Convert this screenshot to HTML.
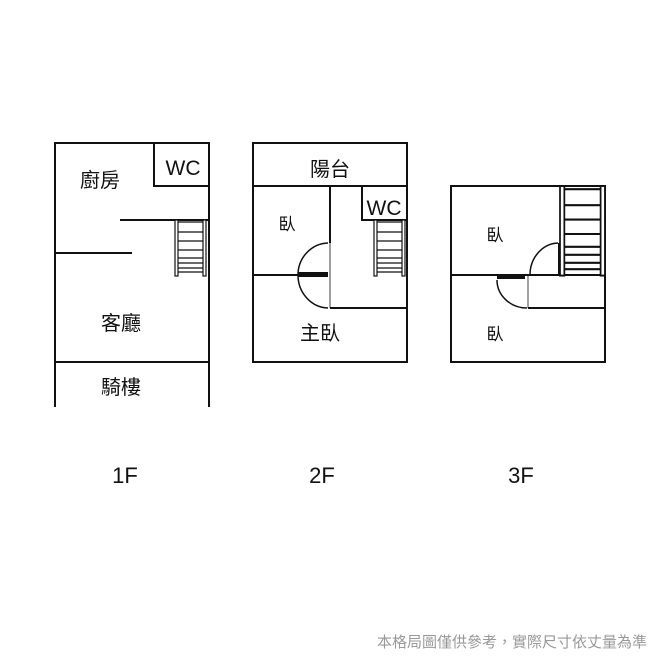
<!DOCTYPE html>
<html><head><meta charset="utf-8"><style>
body{margin:0;background:#fff;}
svg{display:block}
text{font-family:"Liberation Sans","Noto Sans CJK TC",sans-serif;fill:#111}
</style></head><body>
<svg width="660" height="660" viewBox="0 0 660 660" xmlns="http://www.w3.org/2000/svg">
<rect width="660" height="660" fill="#fff"/>
<defs>
<g id="st">
 <rect x="0" y="0" width="3" height="56" fill="#fff" stroke="#111" stroke-width="1.2"/>
 <rect x="28" y="0" width="3" height="56" fill="#fff" stroke="#111" stroke-width="1.2"/>
 <g stroke="#111" stroke-width="1.3">
  <line x1="3" y1="2" x2="28" y2="2"/><line x1="3" y1="12" x2="28" y2="12"/>
  <line x1="3" y1="21" x2="28" y2="21"/><line x1="3" y1="30" x2="28" y2="30"/>
  <line x1="3" y1="38" x2="28" y2="38"/><line x1="3" y1="43" x2="28" y2="43"/>
  <line x1="3" y1="48" x2="28" y2="48"/><line x1="3" y1="52" x2="28" y2="52"/>
 </g>
</g>
</defs>
<g fill="none" stroke="#111" stroke-width="2">
 <!-- 1F -->
 <polyline points="55,407 55,143 209,143 209,407"/>
 <polyline points="154,143 154,186 209,186"/>
 <line x1="120" y1="220" x2="209" y2="220"/>
 <line x1="55" y1="253" x2="132" y2="253"/>
 <line x1="55" y1="362" x2="209" y2="362"/>
 <!-- 2F -->
 <rect x="253" y="143" width="154" height="219"/>
 <line x1="253" y1="186" x2="407" y2="186"/>
 <polyline points="362,186 362,220 407,220"/>
 <line x1="330" y1="186" x2="330" y2="243"/>
 <line x1="253" y1="275" x2="298" y2="275"/>
 <line x1="330" y1="308" x2="407" y2="308"/>
 <!-- 3F -->
 <rect x="451" y="186" width="154" height="176"/>
 <line x1="451" y1="275" x2="605" y2="275"/>
 <line x1="528" y1="308" x2="605" y2="308"/>
</g>
<g fill="none" stroke="#111" stroke-width="1.5">
 <path d="M328,243 A31,32 0 0 0 298,275"/>
 <path d="M298,275 A31,33 0 0 0 328,308"/>
 <line x1="330" y1="243" x2="330" y2="308" stroke-width="0.8"/>
 <path d="M558,243 A29,32 0 0 0 530,275"/>
 <path d="M497,280 A30,28 0 0 0 527,308"/>
 <line x1="528" y1="275" x2="528" y2="308" stroke-width="0.8"/>
</g>
<rect x="298" y="272" width="30" height="5" fill="#111"/>
<rect x="558" y="243" width="3" height="32" fill="#111"/>
<rect x="497" y="276" width="28" height="3" fill="#111"/>
<use href="#st" x="175" y="220"/>
<use href="#st" x="374" y="220"/>
<use href="#st" x="560" y="186" transform="translate(560,186) scale(1.45,1.6) translate(-560,-186)"/>
<g font-size="20">
 <text x="100" y="187" text-anchor="middle">廚房</text>
 <text x="183" y="175" text-anchor="middle" font-size="21">WC</text>
 <text x="121" y="330" text-anchor="middle">客廳</text>
 <text x="121" y="394" text-anchor="middle">騎樓</text>
 <text x="330" y="176" text-anchor="middle">陽台</text>
 <text x="384" y="215" text-anchor="middle" font-size="21">WC</text>
 <text x="287" y="230" text-anchor="middle" font-size="17">臥</text>
 <text x="320" y="340" text-anchor="middle">主臥</text>
 <text x="495" y="241" text-anchor="middle" font-size="17">臥</text>
 <text x="495" y="340" text-anchor="middle" font-size="17">臥</text>
</g>
<g font-size="22">
 <text x="125" y="483" text-anchor="middle">1F</text>
 <text x="322" y="483" text-anchor="middle">2F</text>
 <text x="521" y="483" text-anchor="middle">3F</text>
</g>
<text x="647" y="647" text-anchor="end" font-size="15" style="fill:#999">本格局圖僅供參考，實際尺寸依丈量為準</text>
</svg>
</body></html>
